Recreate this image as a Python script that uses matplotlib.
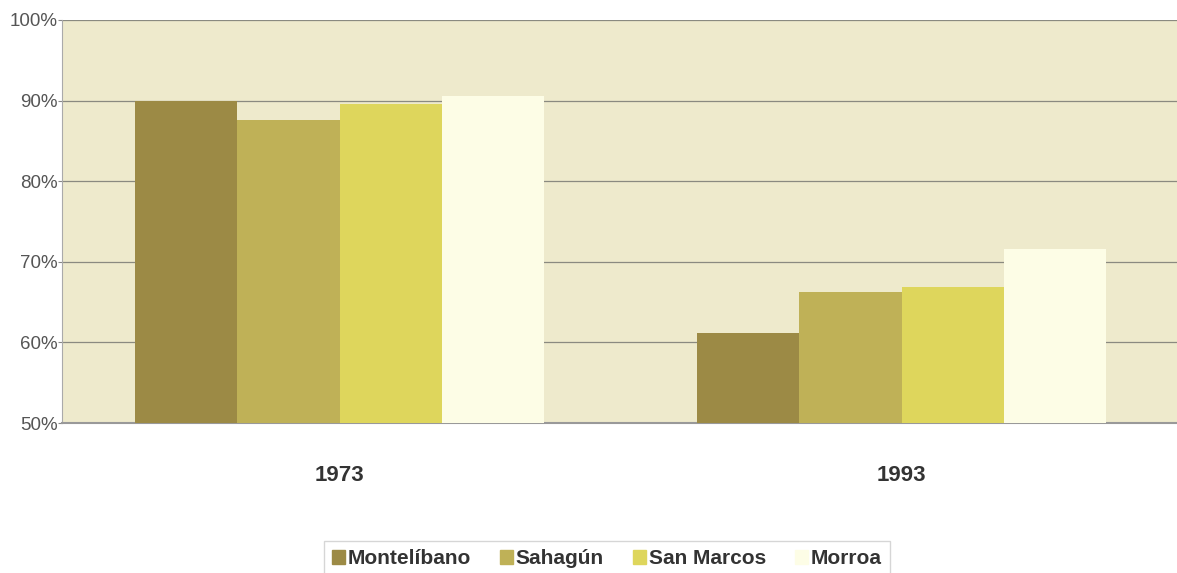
import matplotlib
matplotlib.use("Agg")
import matplotlib.pyplot as plt
import numpy as np

plt.rcParams["font.family"] = ["Liberation Sans", "DejaVu Sans"]

years = ["1973", "1993"]
series = ["Montelíbano", "Sahagún", "San Marcos", "Morroa"]
values = {
    "Montelíbano": [90.0, 61.2],
    "Sahagún": [87.6, 66.2],
    "San Marcos": [89.6, 66.9],
    "Morroa": [90.6, 71.6],
}
yticks = [50, 60, 70, 80, 90, 100]
colors = ["#9c8a45", "#bfb157", "#ded65c", "#fdfde6"]

fig = plt.figure(figsize=(11.77, 5.73), dpi=100)
ax = fig.add_axes([62/1177, 1-423/573, 1 - 62/1177, (423-20)/573])
ax.set_facecolor("#eeeacc")

x = np.arange(len(years))
w = 0.182
for i, s in enumerate(series):
    ax.bar(x + (i - 1.5) * w, values[s], width=w, bottom=0, color=colors[i],
           zorder=3, linewidth=0)

ax.set_ylim(50, 100)
ax.set_xlim(-0.494, 1.49)
ax.set_yticks(yticks)
ax.set_yticklabels([f"{t}%" for t in yticks], color="#555555", fontsize=13.5)
ax.set_xticks(x)
ax.set_xticklabels(years, fontweight="bold", fontsize=16, color="#333333")
ax.tick_params(axis="x", length=0, pad=30)
ax.tick_params(axis="y", length=3, color="#888888", pad=0)
ax.grid(axis="y", color="#8a8a80", linewidth=0.9, zorder=1)
for sp in ["top", "right"]:
    ax.spines[sp].set_visible(False)
ax.spines["left"].set_color("#aaaaaa")
ax.spines["bottom"].set_color("#999999")
ax.spines["bottom"].set_linewidth(1.5)

handles = [plt.Rectangle((0, 0), 1, 1, color=c) for c in colors]
leg = fig.legend(handles, series, loc="upper center",
                 bbox_to_anchor=(607/1177, 1-541/573), ncol=4,
                 frameon=True, fancybox=False, edgecolor="#cccccc",
                 handlelength=0.6, handleheight=0.6, handletextpad=0.15,
                 columnspacing=1.4, borderpad=0.4, borderaxespad=0,
                 prop={"weight": "bold", "size": 15})
for t in leg.get_texts():
    t.set_color("#333333")

fig.savefig("out.png", dpi=100)
